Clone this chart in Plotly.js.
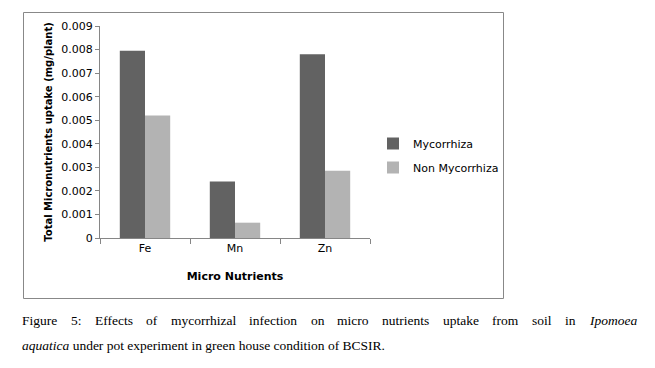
<!DOCTYPE html>
<html><head><meta charset="utf-8">
<script src="https://cdn.plot.ly/plotly-3.0.1.min.js"></script>
<style>body{margin:0;padding:0;background:#fff}#chart{width:655px;height:368px}</style>
</head><body><div id="chart"></div>
<script>
var categories = ["Fe", "Mn", "Zn"];
var mycorrhiza = [0.00795, 0.0024, 0.0078];
var nonMycorrhiza = [0.0052, 0.00065, 0.00285];
var seriesNames = ["Mycorrhiza", "Non Mycorrhiza"];
var yTickVals = [0, 0.001, 0.002, 0.003, 0.004, 0.005, 0.006, 0.007, 0.008, 0.009];
var yTickText = ["0", "0.001", "0.002", "0.003", "0.004", "0.005", "0.006", "0.007", "0.008", "0.009"];
var xTitle = "Micro Nutrients";
var yTitle = "Total Micronutrients uptake (mg/plant)";
var captionLine1 = ["Figure", "5:", "Effects", "of", "mycorrhizal", "infection", "on", "micro", "nutrients", "uptake", "from", "soil", "in", "<i>Ipomoea</i>"];
var captionLine2 = "<i>aquatica</i> under pot experiment in green house condition of BCSIR.";

var W = 655, H = 368;
function px(x){return x / W;}
function py(y){return 1 - y / H;}

var traces = [
  {type: "bar", x: categories, y: mycorrhiza, name: seriesNames[0], marker: {color: "#626262"}, legendgroup: "a"},
  {type: "bar", x: categories, y: nonMycorrhiza, name: seriesNames[1], marker: {color: "#b3b3b3"}, legendgroup: "b"}
];

var capSize = 13.5;
var capFont = capSize + "px 'Liberation Serif'";
var ctx = document.createElement("canvas").getContext("2d");
function measure(w){
  var italic = w.indexOf("<i>") === 0;
  ctx.font = (italic ? "italic " : "") + capFont;
  return ctx.measureText(w.replace(/<\/?i>/g, "")).width;
}
var left = 20, right = 634;
var widths = captionLine1.map(measure);
var total = widths.reduce(function(a,b){return a+b;}, 0);
var gap = (right - left - total) / (captionLine1.length - 1);
var annotations = [];
var cx = left;
captionLine1.forEach(function(w, i){
  annotations.push({xref: "paper", yref: "paper", x: px(cx), y: py(320), xanchor: "left", yanchor: "middle",
    text: w, showarrow: false, font: {family: "Liberation Serif", size: capSize, color: "#000"}});
  cx += widths[i] + gap;
});
annotations.push({xref: "paper", yref: "paper", x: px(left), y: py(345), xanchor: "left", yanchor: "middle",
  text: captionLine2, showarrow: false, font: {family: "Liberation Serif", size: capSize, color: "#000"}});

var layout = {
  width: W, height: H,
  margin: {l: 0, r: 0, t: 0, b: 0},
  paper_bgcolor: "#fff", plot_bgcolor: "#fff",
  font: {family: "DejaVu Sans", size: 11, color: "#000"},
  barmode: "group", bargap: 0.44, bargroupgap: 0,
  showlegend: true,
  legend: {x: px(373), y: py(129), xanchor: "left", yanchor: "top", font: {size: 11, color: "#000"},
    traceorder: "grouped", tracegroupgap: 5, itemwidth: 30, bgcolor: "rgba(0,0,0,0)"},
  xaxis: {domain: [px(100), px(370)], showgrid: false, showline: true, linecolor: "#868686", linewidth: 1,
    ticks: "outside", tickson: "boundaries", ticklen: 5, tickcolor: "#868686", tickfont: {size: 11},
    title: {text: "<b>" + xTitle + "</b>", font: {size: 11}, standoff: 18}, fixedrange: true},
  yaxis: {domain: [py(238), py(26)], range: [0, 0.009], showgrid: false, zeroline: false, showline: true,
    linecolor: "#868686", linewidth: 1, ticks: "outside", ticklen: 4, tickcolor: "#868686",
    tickvals: yTickVals, ticktext: yTickText, tickfont: {size: 11},
    title: {text: "<b>" + yTitle + "</b>", font: {size: 10}, standoff: 6}, fixedrange: true},
  shapes: [
    {type: "rect", xref: "paper", yref: "paper", x0: px(23.5), x1: px(503.5), y0: py(298.5), y1: py(12.5),
      line: {color: "#888", width: 1}, fillcolor: "rgba(0,0,0,0)", layer: "below"}
  ],
  annotations: annotations
};
Plotly.newPlot("chart", traces, layout, {displayModeBar: false, staticPlot: true});
</script></body></html>
